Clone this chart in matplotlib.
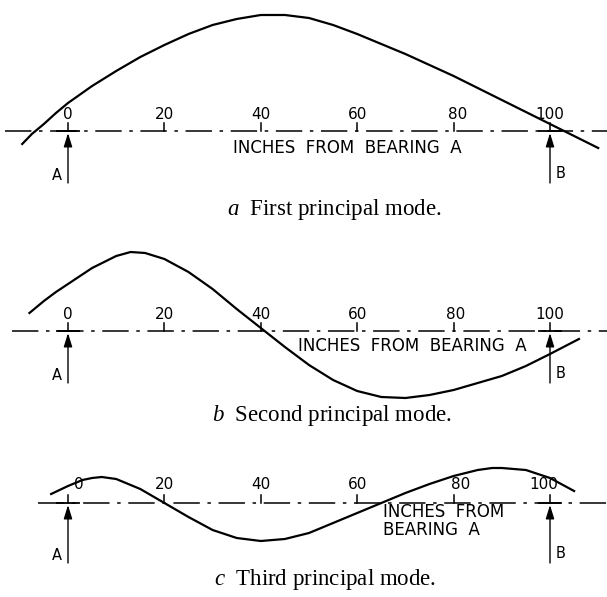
import matplotlib.pyplot as plt

plt.rcParams['lines.scale_dashes'] = False
plt.rcParams['mathtext.fontset'] = 'custom'
plt.rcParams['mathtext.it'] = 'Liberation Serif:italic'
plt.rcParams['mathtext.rm'] = 'Liberation Serif'

# shaft stations (inches from bearing A) and deflection of each mode
pos_a = [-9.5, -7.5, -5, -2.5, 0, 5, 10, 15, 20, 25, 30, 35, 40, 45, 50, 55,
         60, 65, 70, 75, 80, 85, 90, 95, 100, 105, 110]
mode_a = [-13, -3, 7, 18, 28, 45, 60, 74, 86, 97, 106, 112, 116, 116, 113, 106,
          97, 87, 77, 66, 55, 43, 31, 19, 7, -5, -17]

pos_b = [-8, -5, -2.5, 0, 5, 10, 13, 16, 20, 25, 30, 35, 40, 45, 50, 55,
         60, 65, 70, 75, 80, 85, 90, 95, 100, 106]
mode_b = [18, 30, 39, 47, 63, 75, 79, 78, 72, 59, 42, 22, 3, -16, -34, -49,
          -60, -66, -67, -64, -59, -52, -45, -35, -23, -8]

pos_c = [-3.5, 0, 3, 5, 7, 10, 15, 20, 25, 30, 35, 40, 45, 50, 55, 60, 65, 70,
         75, 80, 85, 88, 90, 95, 100, 105]
mode_c = [9, 17, 23, 25, 26, 24, 14, 0, -14, -27, -35, -38, -36, -30, -20, -10, 0, 10,
          19, 27, 33, 35, 35, 33, 25, 12]

ticks = [0, 20, 40, 60, 80, 100]
tick_labels = ['0', '20', '40', '60', '80', '100']
bearings = [0, 100]
bearing_names = ['A', 'B']

W, H = 607, 597
PX_PER_IN = 4.82
X0 = 68

fig = plt.figure(figsize=(W / 100, H / 100), dpi=100)


def panel(top, bottom, axis_y):
    ax = fig.add_axes([0, 1 - bottom / H, 1, (bottom - top) / H])
    ax.set_xlim(-X0 / PX_PER_IN, (W - X0) / PX_PER_IN)
    ax.set_ylim(axis_y - bottom, axis_y - top)
    ax.axis('off')
    return ax


def draw(ax, pos, mode, line_start, arrow_len, lab_dy, lab_dx, caption, cap_y, note, note_xy, note_ha):
    ax.plot([line_start, 112], [0, 0], color='k', lw=1.1,
            dashes=(19, 5.5, 2.5, 5.5))
    ax.plot(pos, mode, color='k', lw=1.6, solid_joinstyle='round')
    for t, lab, dx in zip(ticks, tick_labels, lab_dx):
        ax.plot([t, t], [0, 8], color='k', lw=1.1)
        ax.text(t + dx, lab_dy, lab, ha='center', va='bottom',
                fontsize=11, family='DejaVu Sans')
    for b, name in zip(bearings, bearing_names):
        ax.plot([b - 2.2, b + 2.2], [0, 0], color='k', lw=1.3)
        ax.annotate('', xy=(b, -2), xytext=(b, -arrow_len),
                    arrowprops=dict(arrowstyle='-|>,head_length=0.55,head_width=0.17',
                                    mutation_scale=15, lw=1.0, color='k',
                                    shrinkA=0, shrinkB=0))
        if name == 'A':
            ax.text(b - 1.2, -arrow_len + 8, name, ha='right', va='center',
                    fontsize=10.5, family='DejaVu Sans')
        else:
            ax.text(b + 1.2, -arrow_len + 9, name, ha='left', va='center',
                    fontsize=10.5, family='DejaVu Sans')
    ax.text(note_xy[0], note_xy[1], note, ha=note_ha, va='center',
            fontsize=12, family='DejaVu Sans', linespacing=0.95)
    fig.text(caption[0] / W, 1 - cap_y / H, caption[1], ha='center', va='center',
             fontsize=16.5, family='Liberation Serif')


ax_a = panel(0, 200, 131)
draw(ax_a, pos_a, mode_a, -13.1, 52, 9, [0, 0, 0, 0, 0.8, 0],
     (334, r'$a$  First principal mode.'), 210,
     'INCHES  FROM  BEARING  A', (58, -17), 'center')

ax_b = panel(200, 400, 331)
draw(ax_b, pos_b, mode_b, -11.6, 52, 9, [0, 0, 0, 0, 0.5, 0],
     (332, r'$b$  Second principal mode.'), 415,
     'INCHES  FROM  BEARING  A', (71.5, -15), 'center')

ax_c = panel(400, 597, 503)
draw(ax_c, pos_c, mode_c, -6.2, 60, 11, [2.3, 0, 0, 0, 1.5, -1.3],
     (325, r'$c$  Third principal mode.'), 580,
     'INCHES  FROM\nBEARING  A', (65.3, -18), 'left')

fig.savefig('out.png', dpi=100)
